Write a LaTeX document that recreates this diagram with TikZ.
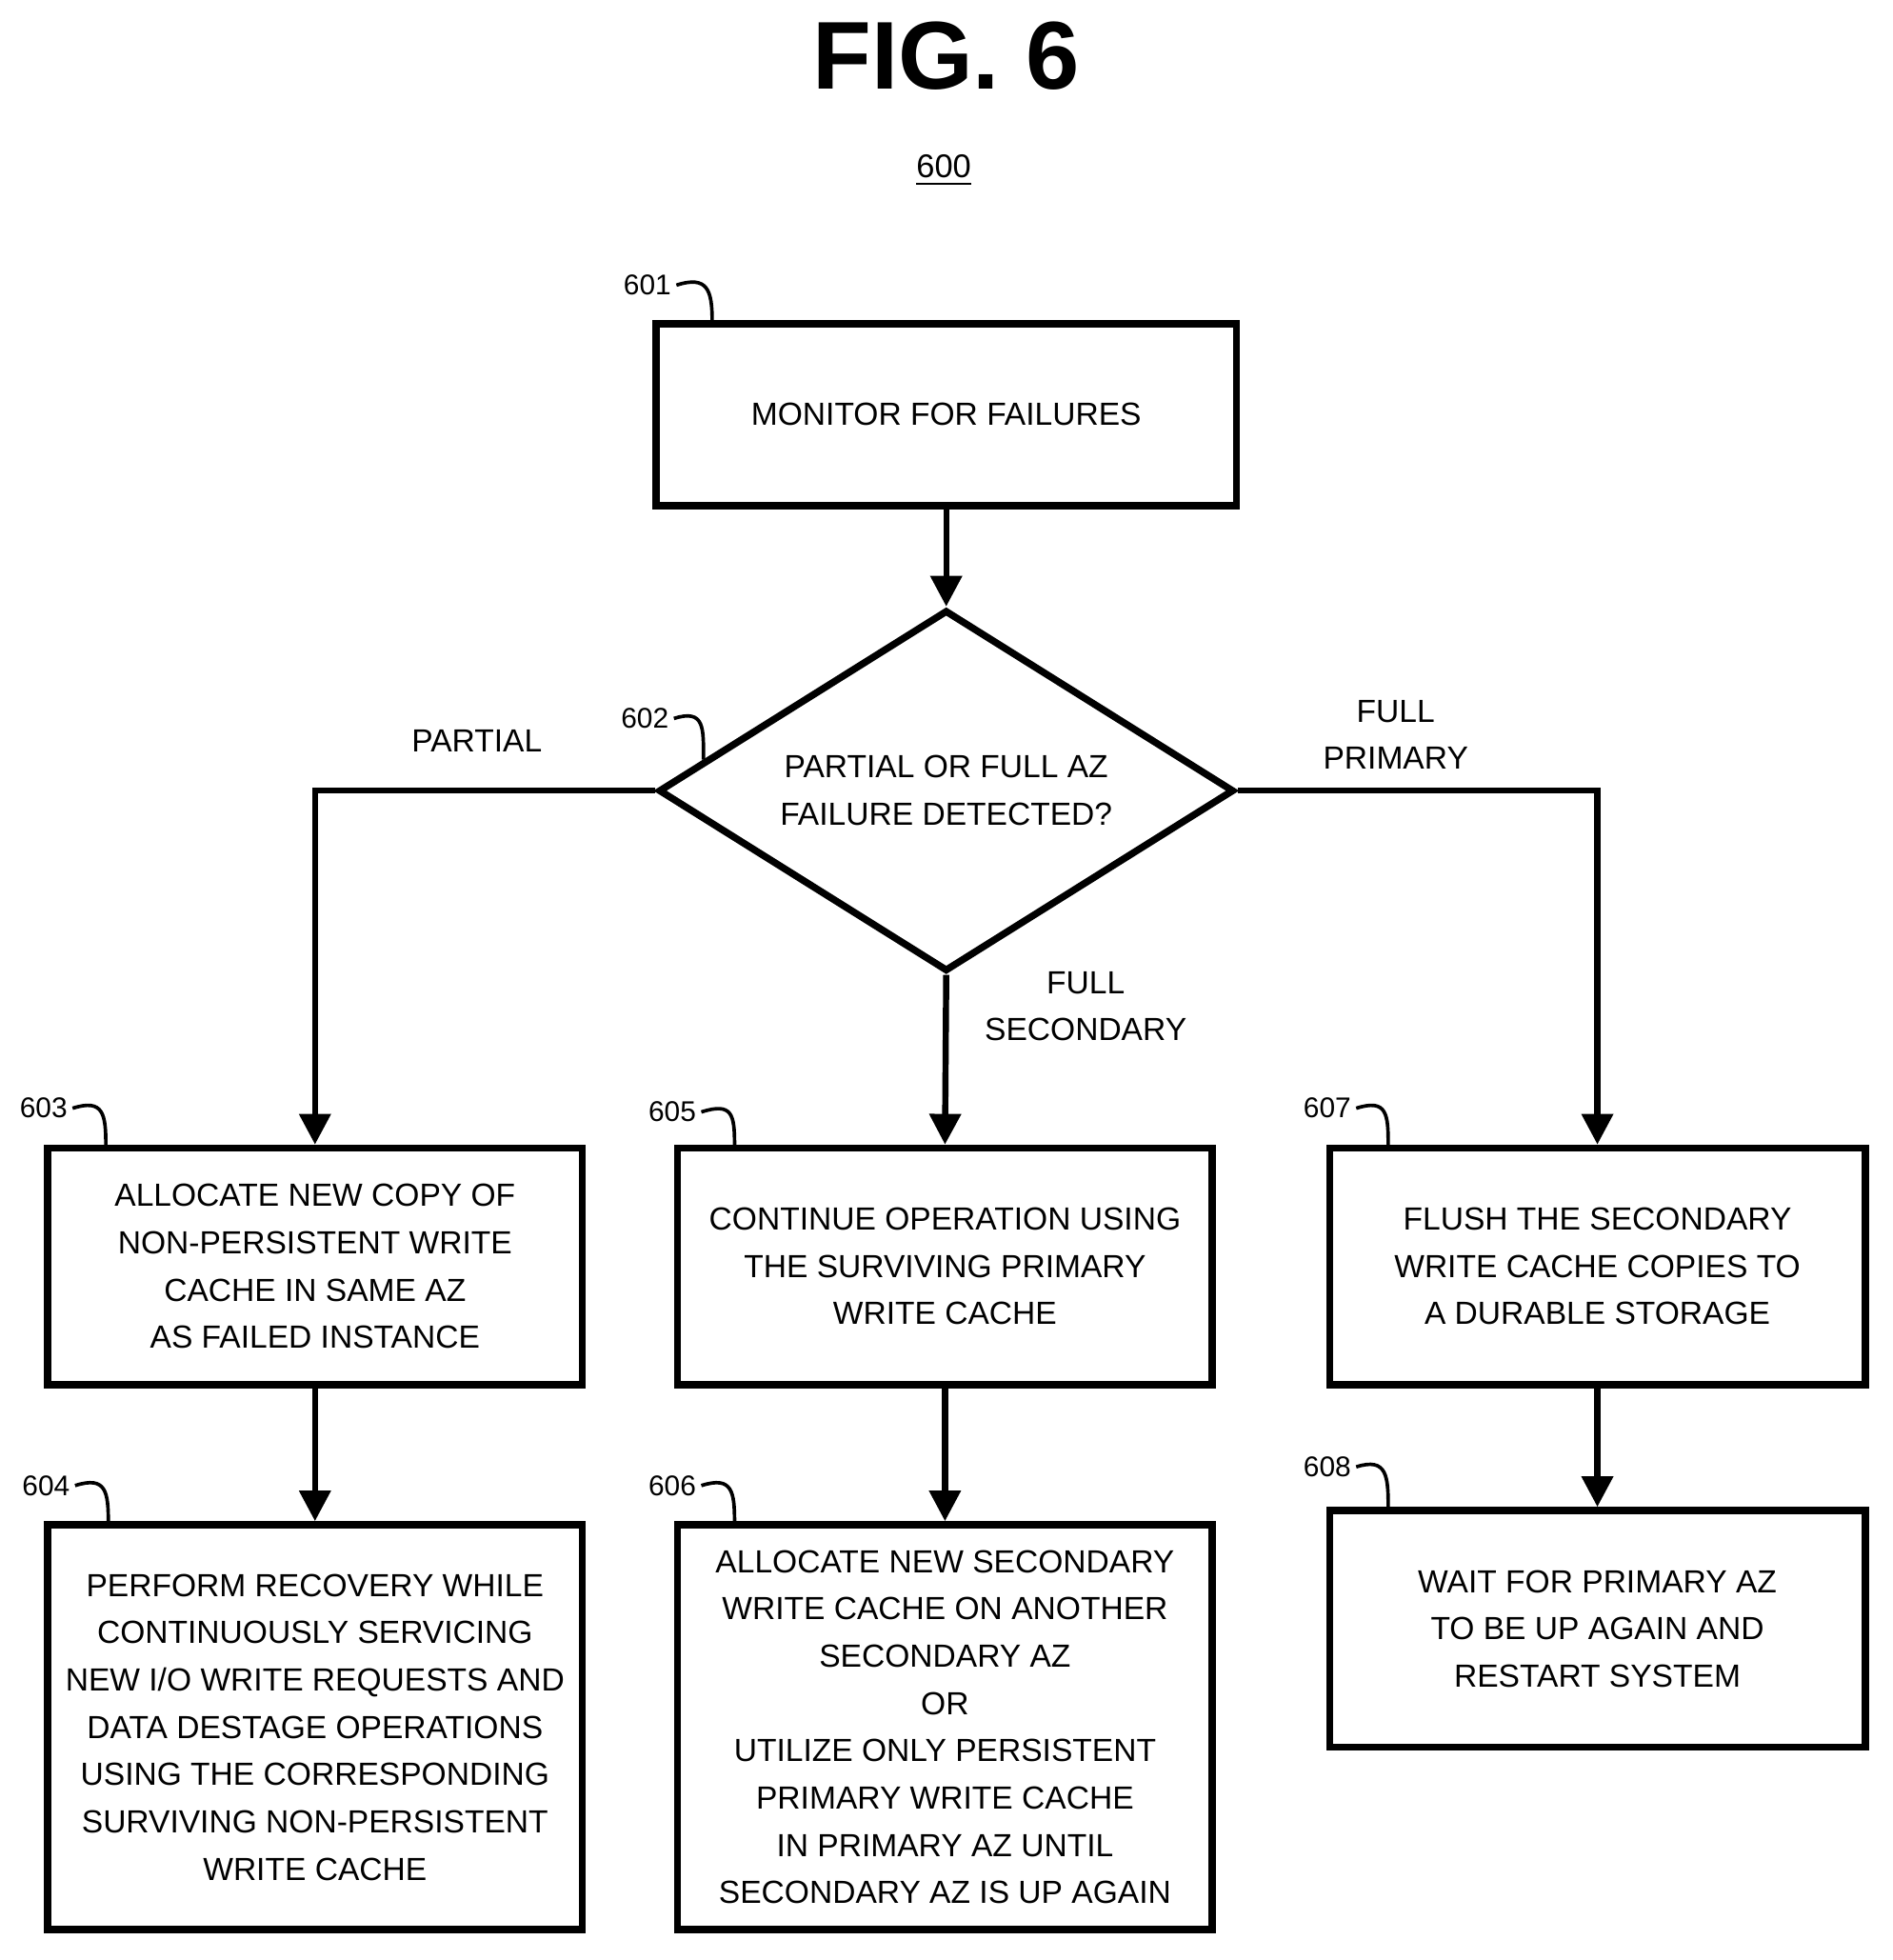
\documentclass[tikz,border=0pt]{standalone}
\usepackage{fontspec}
\setmainfont{Liberation Sans}
\usetikzlibrary{arrows.meta,shapes.geometric,calc}
\begin{document}
\begin{tikzpicture}[x=0.01cm,y=-0.01cm,
  box/.style={draw,line width=1.6pt,align=center,inner sep=0pt,font=\fontsize{7.3}{10.8}\selectfont},
  txt/.style={font=\fontsize{7.3}{10.8}\selectfont,align=center,inner sep=0pt},
  lab/.style={font=\fontsize{6.5}{8}\selectfont,inner sep=1pt},
  arr/.style={line width=1.4pt,-{Triangle[length=7pt,width=7pt]}},
  sq/.style={line width=0.8pt}]
\useasboundingbox (0,0) rectangle (1520,1574);
\node[font=\bfseries\fontsize{22}{26}\selectfont] (title) at (760,45) {FIG. 6};
\node[lab,font=\fontsize{7.5}{9}\selectfont] (n600) at (758,137) {\underline{600}};
\node[box,minimum width=4.66cm,minimum height=1.46cm] (b601) at (760,333) {MONITOR FOR FAILURES};
\node[box,diamond,minimum width=4.62cm,minimum height=2.9cm,aspect=1.6] (d602) at (760,635) {};
\node[txt] (t602) at (760,635) {PARTIAL OR FULL AZ\\FAILURE DETECTED?};
\node[box,minimum width=4.29cm,minimum height=1.9cm] (b603) at (253,1017) {ALLOCATE NEW COPY OF\\NON-PERSISTENT WRITE\\CACHE IN SAME AZ\\AS FAILED INSTANCE};
\node[box,minimum width=4.29cm,minimum height=1.9cm] (b605) at (759,1017) {CONTINUE OPERATION USING\\THE SURVIVING PRIMARY\\WRITE CACHE};
\node[box,minimum width=4.30cm,minimum height=1.9cm] (b607) at (1283,1017) {FLUSH THE SECONDARY\\WRITE CACHE COPIES TO\\A DURABLE STORAGE};
\node[box,minimum width=4.29cm,minimum height=3.25cm] (b604) at (253,1387) {PERFORM RECOVERY WHILE\\CONTINUOUSLY SERVICING\\NEW I/O WRITE REQUESTS AND\\DATA DESTAGE OPERATIONS\\USING THE CORRESPONDING\\SURVIVING NON-PERSISTENT\\WRITE CACHE};
\node[box,minimum width=4.29cm,minimum height=3.25cm] (b606) at (759,1387) {ALLOCATE NEW SECONDARY\\WRITE CACHE ON ANOTHER\\SECONDARY AZ\\OR\\UTILIZE ONLY PERSISTENT\\PRIMARY WRITE CACHE\\IN PRIMARY AZ UNTIL\\SECONDARY AZ IS UP AGAIN};
\node[box,minimum width=4.30cm,minimum height=1.9cm] (b608) at (1283,1308) {WAIT FOR PRIMARY AZ\\TO BE UP AGAIN AND\\RESTART SYSTEM};
\node[txt] (lp) at (383,595) {PARTIAL};
\node[txt] (lfp) at (1121,590) {FULL\\PRIMARY};
\node[txt] (lfs) at (872,808) {FULL\\SECONDARY};
\draw[arr] (b601) -- (d602);
\draw[arr] (d602.west) -| (b603.north);
\draw[arr] (d602.east) -| (b607.north);
\draw[arr] (d602.south) -- (b605.north);
\draw[arr] (b603) -- (b604);
\draw[arr] (b605) -- (b606);
\draw[arr] (b607) -- (b608);
\foreach \n/\x/\y in {601/520/229, 602/518/577, 603/35/890, 605/540/893, 607/1066/890, 604/37/1193, 606/540/1193, 608/1066/1178}{
  \node[lab] (l\n) at (\x,\y) {\n};
}
\foreach \n/\tx/\ty in {601/572/258, 603/85/920, 605/590/920, 607/1115/920, 604/87/1223, 606/590/1223, 608/1115/1211, 602/565/610}{
  \coordinate (c\n) at (\tx,\ty);
  \draw[sq] (l\n.east) .. controls ($(l\n.east)+(25,-8)$) and ($(c\n)+(0,-25)$) .. (c\n);
}
\end{tikzpicture}
\end{document}
